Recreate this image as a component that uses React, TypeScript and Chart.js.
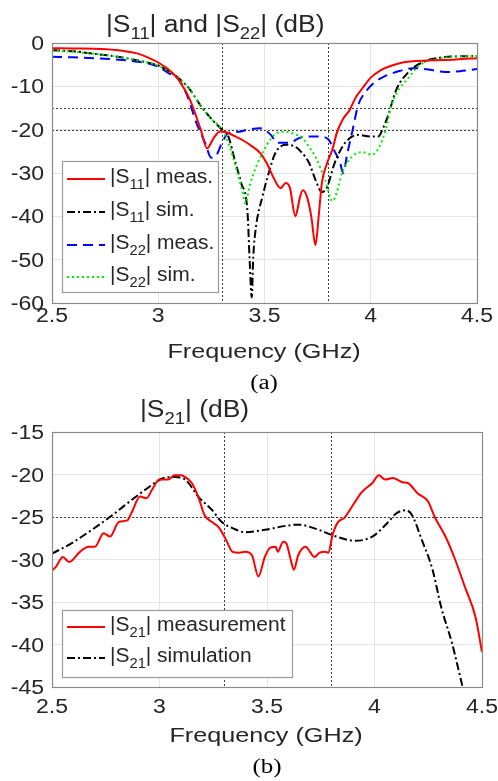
import React, { useEffect, useRef } from "react";
import { Chart, registerables } from "chart.js";

Chart.register(...registerables);

// ---------- DATA (a) ----------
const X_TICKS = [2.5, 3, 3.5, 4, 4.5];
const X_TICK_LABELS = ["2.5", "3", "3.5", "4", "4.5"];
const YA_TICKS = [0, -10, -20, -30, -40, -50, -60];
const YA_TICK_LABELS = ["0", "-10", "-20", "-30", "-40", "-50", "-60"];
const YB_TICKS = [-15, -20, -25, -30, -35, -40, -45];
const YB_TICK_LABELS = ["-15", "-20", "-25", "-30", "-35", "-40", "-45"];

const S11_MEAS_F = [2.5, 2.6, 2.7, 2.8, 2.9, 2.95, 3.0, 3.05, 3.1, 3.15, 3.2, 3.23, 3.26, 3.29, 3.32, 3.36, 3.4, 3.44, 3.48, 3.51, 3.54, 3.56, 3.575, 3.6, 3.62, 3.645, 3.655, 3.665, 3.68, 3.7, 3.72, 3.74, 3.755, 3.77, 3.795, 3.82, 3.84, 3.87, 3.9, 3.93, 3.96, 4.0, 4.05, 4.1, 4.15, 4.2, 4.3, 4.4, 4.5];
const S11_MEAS_DB = [-1.2, -1.25, -1.3, -1.6, -2.4, -3.3, -4.5, -6.2, -8.8, -13.2, -20, -24.3, -22, -20.4, -20.6, -21.5, -22.5, -23.8, -25.4, -27.7, -30.8, -32.7, -33.5, -32.3, -33.5, -40, -38.5, -36, -34, -35.5, -40, -46.6, -40, -32.3, -27.7, -24.5, -20.8, -17.5, -15.5, -12.5, -10.5, -8, -6.2, -5.2, -4.5, -4.2, -4, -3.8, -3.5];

const S11_SIM_F = [2.5, 2.6, 2.7, 2.8, 2.9, 3.0, 3.05, 3.1, 3.15, 3.2, 3.25, 3.3, 3.33, 3.36, 3.39, 3.42, 3.43, 3.44, 3.447, 3.46, 3.49, 3.52, 3.55, 3.6, 3.64, 3.67, 3.71, 3.74, 3.77, 3.795, 3.83, 3.88, 3.94, 4.0, 4.035, 4.06, 4.08, 4.12, 4.18, 4.25, 4.34, 4.4, 4.5];
const S11_SIM_DB = [-1.7, -1.9, -2.5, -3.1, -4, -5.2, -6.5, -8.3, -10.8, -14.5, -17.5, -20, -21.6, -27, -32.3, -39, -50, -58.7, -49.4, -42.4, -35.5, -30, -25.5, -23.5, -23.8, -25, -27.7, -31.6, -34.4, -33.2, -27.7, -23, -21.2, -21.6, -21.6, -19.4, -17, -10.8, -6.6, -4.3, -3.3, -3.1, -3];

const S22_MEAS_F = [2.5, 2.6, 2.7, 2.8, 2.9, 2.95, 3.0, 3.05, 3.09, 3.135, 3.18, 3.22, 3.25, 3.275, 3.3, 3.33, 3.38, 3.42, 3.48, 3.53, 3.56, 3.62, 3.66, 3.7, 3.76, 3.8, 3.83, 3.855, 3.87, 3.89, 3.915, 3.94, 3.98, 4.02, 4.06, 4.12, 4.2, 4.28, 4.35, 4.42, 4.5];
const S22_MEAS_DB = [-3.2, -3.3, -3.5, -3.8, -4.3, -4.7, -5.5, -7, -8, -12, -18.5, -23, -26.5, -25.8, -23, -20.8, -20.5, -20, -19.7, -21.2, -23, -23, -22, -21.6, -21.6, -22.2, -25, -27.5, -30, -25.4, -20, -14.5, -11, -9, -7.8, -6.7, -5.8, -6.2, -6.7, -6.5, -6];

const S22_SIM_F = [2.5, 2.6, 2.7, 2.8, 2.9, 3.0, 3.05, 3.1, 3.15, 3.2, 3.25, 3.3, 3.34, 3.37, 3.395, 3.41, 3.43, 3.46, 3.5, 3.525, 3.55, 3.6, 3.64, 3.68, 3.71, 3.74, 3.785, 3.82, 3.84, 3.865, 3.91, 3.96, 4.005, 4.04, 4.07, 4.1, 4.135, 4.17, 4.23, 4.33, 4.42, 4.5];
const S22_SIM_DB = [-1.8, -2, -2.5, -3.1, -4, -5.2, -6.5, -8.3, -10.8, -14.5, -17.5, -20, -24.5, -29.5, -34, -37, -33, -28.6, -24.5, -22.4, -21, -20.5, -21, -22, -24, -26.3, -31.6, -36.5, -34.5, -30, -26.3, -25.2, -25.8, -24, -20, -14, -10.5, -8.5, -5.1, -3.5, -3.1, -3];

const A_REF_Y = [-15, -20];
const REF_X = [3.3, 3.8];

// ---------- DATA (b) ----------
const S21_MEAS_F = [2.5, 2.52, 2.55, 2.58, 2.63, 2.67, 2.7, 2.74, 2.77, 2.81, 2.85, 2.87, 2.91, 2.94, 2.965, 3.0, 3.04, 3.07, 3.1, 3.12, 3.15, 3.18, 3.21, 3.245, 3.275, 3.31, 3.34, 3.37, 3.4, 3.43, 3.46, 3.49, 3.515, 3.54, 3.55, 3.575, 3.59, 3.61, 3.625, 3.645, 3.68, 3.7, 3.72, 3.745, 3.77, 3.785, 3.805, 3.83, 3.86, 3.895, 3.94, 3.99, 4.02, 4.05, 4.085, 4.13, 4.155, 4.2, 4.25, 4.28, 4.33, 4.375, 4.42, 4.47, 4.5];
const S21_MEAS_DB = [-31.3, -30.8, -29.7, -30.3, -29.1, -28.5, -28.5, -26.9, -27.3, -25.6, -25.4, -24.5, -22.6, -22.8, -21.8, -20.6, -20.6, -20.1, -20.1, -20.3, -21, -22.6, -24.8, -25.6, -26.2, -27.7, -29.1, -29.2, -29.1, -29.5, -32, -29.7, -28.6, -28.5, -29.1, -27.9, -28.1, -30, -31.2, -29.5, -28.5, -29.1, -29.7, -29.2, -29.1, -29.2, -27.1, -25.6, -25.1, -23.8, -22.1, -21, -20.1, -20.6, -20.4, -20.9, -21, -22.2, -23.2, -25, -27.3, -30, -33.2, -36.8, -40.9];

const S21_SIM_F = [2.5, 2.59, 2.686, 2.78, 2.87, 2.95, 3.01, 3.07, 3.12, 3.18, 3.245, 3.29, 3.34, 3.4, 3.49, 3.645, 3.74, 3.8, 3.91, 3.99, 4.06, 4.1, 4.145, 4.175, 4.22, 4.27, 4.31, 4.36, 4.41, 4.43];
const S21_SIM_DB = [-29.3, -28.1, -26.5, -24.8, -23, -21.5, -20.5, -20.3, -20.6, -22.6, -24.2, -25.6, -26.3, -26.8, -26.5, -25.9, -26.5, -27.1, -27.8, -27.3, -25.7, -24.6, -24.2, -24.8, -27.7, -31.2, -35.6, -39.8, -45, -47];

const B_REF_Y = [-25];

// ---------- helpers ----------
type Part = { t: string; sub?: boolean };
const SANS = '"Liberation Sans", Arial, Helvetica, sans-serif';
const SERIF = '"Liberation Serif", "Times New Roman", serif';
const TEXT = "#262626";

function pts(f: number[], v: number[]) {
  return f.map((x, i) => ({ x, y: v[i] }));
}

function drawRich(
  ctx: CanvasRenderingContext2D,
  parts: Part[],
  x: number,
  baseline: number,
  size: number,
  subSize: number,
  sx: number,
  align: "left" | "center" | "right",
  family = SANS,
  color = TEXT
) {
  ctx.save();
  const fm = `${size}px ${family}`;
  const fs = `${subSize}px ${family}`;
  let w = 0;
  for (const p of parts) {
    ctx.font = p.sub ? fs : fm;
    w += ctx.measureText(p.t).width;
  }
  const start = align === "center" ? x - (w * sx) / 2 : align === "right" ? x - w * sx : x;
  ctx.translate(start, baseline);
  ctx.scale(sx, 1);
  ctx.fillStyle = color;
  ctx.textAlign = "left";
  ctx.textBaseline = "alphabetic";
  let cx = 0;
  for (const p of parts) {
    ctx.font = p.sub ? fs : fm;
    ctx.fillText(p.t, cx, p.sub ? subSize * 0.45 : 0);
    cx += ctx.measureText(p.t).width;
  }
  ctx.restore();
}

type LegendEntry = { parts: Part[]; color: string; dash: number[] };

type PanelSpec = {
  W: number;
  H: number;
  plot: { left: number; top: number; right: number; bottom: number };
  yMin: number;
  yMax: number;
  yStep: number;
  yTicks: number[];
  yLabels: string[];
  refY: number[];
  title: Part[];
  titleX: number;
  titleBase: number;
  xTickBase: number;
  xLabelX: number;
  xLabelBase: number;
  caption: string;
  captionX: number;
  captionBase: number;
  legendBox: { x: number; y: number; w: number; h: number };
  legendRows: number[];
  legend: LegendEntry[];
  datasets: any[];
};

function buildConfig(s: PanelSpec): any {
  const plugin = {
    id: "decor",
    beforeDatasetsDraw(chart: any) {
      const ctx = chart.ctx as CanvasRenderingContext2D;
      const a = chart.chartArea;
      const xs = chart.scales.x;
      const ys = chart.scales.y;
      ctx.save();
      ctx.strokeStyle = "#3a3a3a";
      ctx.lineWidth = 1;
      ctx.setLineDash([2, 2]);
      for (const v of s.refY) {
        const py = Math.round(ys.getPixelForValue(v)) + 0.5;
        ctx.beginPath();
        ctx.moveTo(a.left, py);
        ctx.lineTo(a.right, py);
        ctx.stroke();
      }
      for (const v of REF_X) {
        const px = Math.round(xs.getPixelForValue(v)) + 0.5;
        ctx.beginPath();
        ctx.moveTo(px, a.top);
        ctx.lineTo(px, a.bottom);
        ctx.stroke();
      }
      ctx.restore();
    },
    afterDraw(chart: any) {
      const ctx = chart.ctx as CanvasRenderingContext2D;
      const a = chart.chartArea;
      const xs = chart.scales.x;
      const ys = chart.scales.y;
      // axes box
      ctx.save();
      ctx.strokeStyle = "#8a8a8a";
      ctx.lineWidth = 1.2;
      ctx.strokeRect(a.left + 0.5, a.top + 0.5, a.right - a.left, a.bottom - a.top);
      ctx.restore();
      // tick labels
      X_TICKS.forEach((v, i) => {
        drawRich(ctx, [{ t: X_TICK_LABELS[i] }], xs.getPixelForValue(v), s.xTickBase, 20, 14, 1.15, "center");
      });
      s.yTicks.forEach((v, i) => {
        drawRich(ctx, [{ t: s.yLabels[i] }], a.left - 8, ys.getPixelForValue(v) + 7, 20, 14, 1.15, "right");
      });
      // title
      drawRich(ctx, s.title, s.titleX, s.titleBase, 23, 16, 1.15, "left");
      // x label
      drawRich(ctx, [{ t: "Frequency (GHz)" }], s.xLabelX, s.xLabelBase, 21, 14, 1.2, "center");
      // caption
      drawRich(ctx, [{ t: s.caption }], s.captionX, s.captionBase, 20, 14, 1.25, "center", SERIF, "#000");
      // legend
      const b = s.legendBox;
      ctx.save();
      ctx.fillStyle = "#ffffff";
      ctx.fillRect(b.x, b.y, b.w, b.h);
      ctx.strokeStyle = "#9a9a9a";
      ctx.lineWidth = 1.2;
      ctx.strokeRect(b.x + 0.5, b.y + 0.5, b.w, b.h);
      ctx.restore();
      s.legend.forEach((e, i) => {
        const y = s.legendRows[i];
        ctx.save();
        ctx.strokeStyle = e.color;
        ctx.lineWidth = 2;
        ctx.setLineDash(e.dash);
        ctx.beginPath();
        ctx.moveTo(b.x + 5, y);
        ctx.lineTo(b.x + 43, y);
        ctx.stroke();
        ctx.restore();
        drawRich(ctx, e.parts, b.x + 48, y + 4, 20, 14, 1.05, "left");
      });
    },
  };

  return {
    type: "line",
    data: { datasets: s.datasets },
    options: {
      responsive: false,
      animation: false,
      events: [],
      layout: {
        padding: { left: 0, top: s.plot.top, right: s.W - s.plot.right, bottom: 0 },
      },
      plugins: { legend: { display: false }, title: { display: false }, tooltip: { enabled: false } },
      scales: {
        x: {
          type: "linear",
          min: 2.5,
          max: 4.5,
          ticks: { stepSize: 0.5, display: false },
          grid: { color: "#e4e4e4", lineWidth: 1, drawTicks: false },
          border: { display: false },
          afterFit: (sc: any) => {
            sc.height = s.H - s.plot.bottom;
          },
        },
        y: {
          type: "linear",
          min: s.yMin,
          max: s.yMax,
          ticks: { stepSize: s.yStep, display: false },
          grid: { color: "#e4e4e4", lineWidth: 1, drawTicks: false },
          border: { display: false },
          afterFit: (sc: any) => {
            sc.width = s.plot.left;
          },
        },
      },
      elements: { point: { radius: 0 }, line: { cubicInterpolationMode: "monotone" } },
    },
    plugins: [plugin],
  };
}

const RED = "#ff0000";
const BLACK = "#000000";
const BLUE = "#0000ff";
const GREEN = "#00ee00";
const DASHDOT = [8, 3, 2, 3];
const DASHED = [10, 6];
const DOTTED = [2, 3];

function specA(): PanelSpec {
  return {
    W: 498,
    H: 400,
    plot: { left: 52, top: 43, right: 477, bottom: 303 },
    yMin: -60,
    yMax: 0,
    yStep: 10,
    yTicks: YA_TICKS,
    yLabels: YA_TICK_LABELS,
    refY: A_REF_Y,
    title: [{ t: "|S" }, { t: "11", sub: true }, { t: "| and |S" }, { t: "22", sub: true }, { t: "| (dB)" }],
    titleX: 106,
    titleBase: 32,
    xTickBase: 322,
    xLabelX: 264,
    xLabelBase: 358,
    caption: "(a)",
    captionX: 264,
    captionBase: 389,
    legendBox: { x: 62, y: 161, w: 156, h: 131 },
    legendRows: [179, 212, 245, 277],
    legend: [
      { parts: [{ t: "|S" }, { t: "11", sub: true }, { t: "| meas." }], color: RED, dash: [] },
      { parts: [{ t: "|S" }, { t: "11", sub: true }, { t: "| sim." }], color: BLACK, dash: DASHDOT },
      { parts: [{ t: "|S" }, { t: "22", sub: true }, { t: "| meas." }], color: BLUE, dash: DASHED },
      { parts: [{ t: "|S" }, { t: "22", sub: true }, { t: "| sim." }], color: GREEN, dash: DOTTED },
    ],
    datasets: [
      { label: "S11 meas.", data: pts(S11_MEAS_F, S11_MEAS_DB), borderColor: RED, borderWidth: 2, borderDash: [], order: 1 },
      { label: "S11 sim.", data: pts(S11_SIM_F, S11_SIM_DB), borderColor: BLACK, borderWidth: 2, borderDash: DASHDOT, order: 3 },
      { label: "S22 meas.", data: pts(S22_MEAS_F, S22_MEAS_DB), borderColor: BLUE, borderWidth: 2, borderDash: DASHED, order: 4 },
      { label: "S22 sim.", data: pts(S22_SIM_F, S22_SIM_DB), borderColor: GREEN, borderWidth: 2, borderDash: DOTTED, order: 2 },
    ],
  };
}

function specB(): PanelSpec {
  return {
    W: 498,
    H: 386,
    plot: { left: 52, top: 37, right: 482, bottom: 292 },
    yMin: -45,
    yMax: -15,
    yStep: 5,
    yTicks: YB_TICKS,
    yLabels: YB_TICK_LABELS,
    refY: B_REF_Y,
    title: [{ t: "|S" }, { t: "21", sub: true }, { t: "| (dB)" }],
    titleX: 140,
    titleBase: 22,
    xTickBase: 318,
    xLabelX: 266,
    xLabelBase: 347,
    caption: "(b)",
    captionX: 267,
    captionBase: 378,
    legendBox: { x: 62, y: 215, w: 230, h: 67 },
    legendRows: [232, 263],
    legend: [
      { parts: [{ t: "|S" }, { t: "21", sub: true }, { t: "| measurement" }], color: RED, dash: [] },
      { parts: [{ t: "|S" }, { t: "21", sub: true }, { t: "| simulation" }], color: BLACK, dash: DASHDOT },
    ],
    datasets: [
      { label: "S21 measurement", data: pts(S21_MEAS_F, S21_MEAS_DB), borderColor: RED, borderWidth: 2, borderDash: [], order: 1 },
      { label: "S21 simulation", data: pts(S21_SIM_F, S21_SIM_DB), borderColor: BLACK, borderWidth: 2, borderDash: DASHDOT, order: 2 },
    ],
  };
}

function Panel({ top, spec }: { top: number; spec: () => PanelSpec }) {
  const ref = useRef<HTMLCanvasElement>(null);
  const s = spec();
  useEffect(() => {
    const chart = new Chart(ref.current as HTMLCanvasElement, buildConfig(spec()));
    return () => chart.destroy();
  }, []);
  return (
    <canvas
      ref={ref}
      width={s.W}
      height={s.H}
      style={{ position: "absolute", left: 0, top, width: s.W, height: s.H, display: "block" }}
    />
  );
}

export default function App() {
  return (
    <div style={{ position: "absolute", left: 0, top: 0, width: 498, height: 781, background: "#ffffff", overflow: "hidden" }}>
      <Panel top={0} spec={specA} />
      <Panel top={395} spec={specB} />
    </div>
  );
}
